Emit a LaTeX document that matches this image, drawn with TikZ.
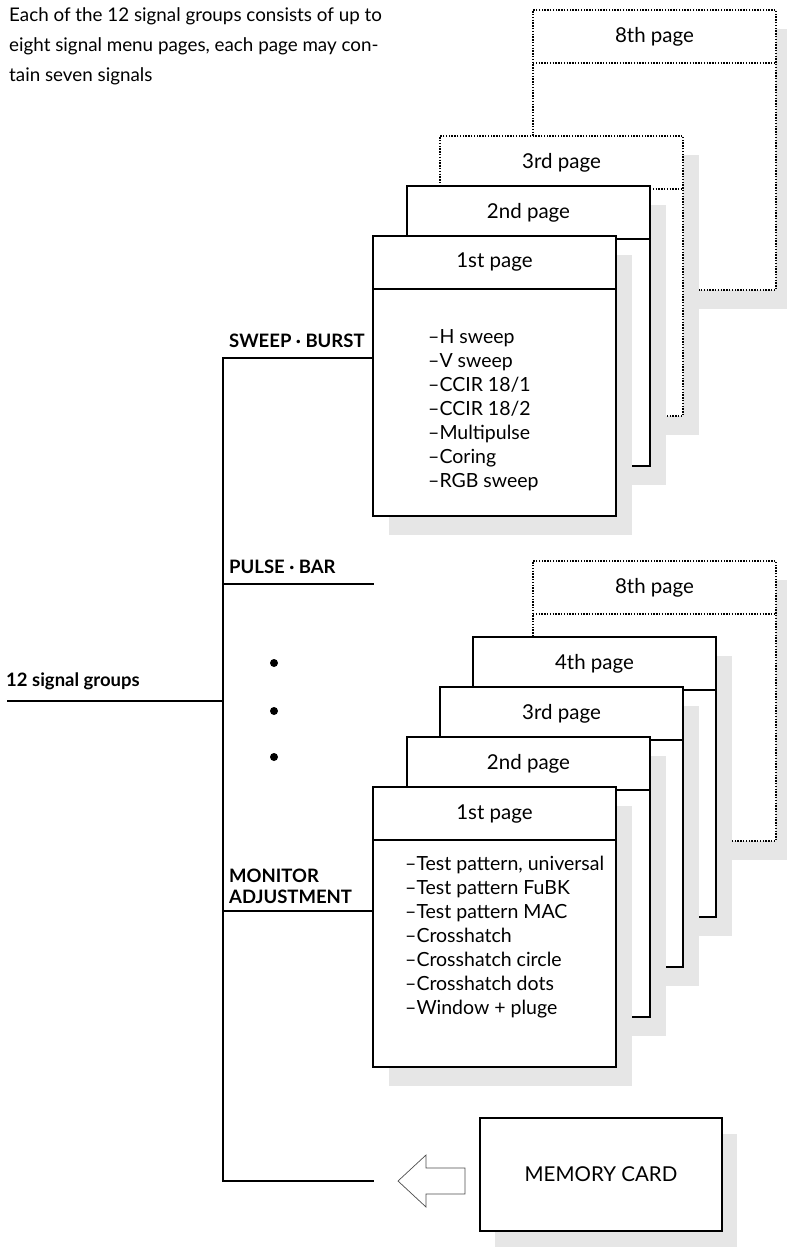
\documentclass[tikz,border=0pt]{standalone}
\usepackage{fontspec}
\setmainfont{Lato}
\usetikzlibrary{positioning}

\definecolor{shadowgray}{HTML}{E6E6E6}

\tikzset{
  cardshadow/.style={fill=shadowgray, draw=none},
  pagesolid/.style={draw, line width=2.4pt, fill=white},
  pagedotted/.style={draw, line width=1.8pt, dash pattern=on 1.4pt off 1.4pt, fill=white},
  groupline/.style={line width=2.3pt},
  grouplabel/.style={font=\bfseries\fontsize{18.5}{21}\selectfont, inner sep=0pt},
  itemtext/.style={font=\fontsize{19.5}{24}\selectfont, inner sep=0pt, anchor=base west},
}

% one menu page: name, left x, top y, style, header text
\newcommand{\menupage}[5]{%
  \fill[cardshadow] (#2+16,#3+19) rectangle ++(243,280);
  \node[#4, minimum width=243pt, minimum height=280pt, inner sep=0pt, outer sep=0pt,
        anchor=north west] (#1) at (#2,#3) {};
  \draw[#4] ([yshift=-53pt]#1.north west) -- ([yshift=-53pt]#1.north east);
  \node[font=\fontsize{20.5}{22}\selectfont] (#1-head) at ([yshift=-26.5pt]#1.north) {#5};
}

\begin{document}
\begin{tikzpicture}[x=1pt, y=-1pt]
  \useasboundingbox (0,0) rectangle (787,1248);

  % note at the top
  \node[itemtext, align=left, font=\fontsize{18.8}{30}\selectfont, anchor=north west]
    (note) at (9,7) {Each of the 12 signal groups consists of up to\\
    eight signal menu pages, each page may con-\\
    tain seven signals};

  % sweep / burst group
  \menupage{sa8}{533}{10}{pagedotted}{8th page}
  \menupage{sa3}{440}{136}{pagedotted}{3rd page}
  \menupage{sa2}{407}{186}{pagesolid}{2nd page}
  \menupage{sa1}{373}{236}{pagesolid}{1st page}
  \foreach \t [count=\i] in {H sweep, V sweep, CCIR 18/1, CCIR 18/2,
                             Multipulse, Coring, RGB sweep}
    \node[itemtext] (sa-\i) at (428,343+24*\i-24) {–\t};

  % monitor adjustment group
  \menupage{ma8}{533}{561}{pagedotted}{8th page}
  \menupage{ma4}{473}{637}{pagesolid}{4th page}
  \menupage{ma3}{440}{687}{pagesolid}{3rd page}
  \menupage{ma2}{407}{737}{pagesolid}{2nd page}
  \menupage{ma1}{373}{787}{pagesolid}{1st page}
  \foreach \t [count=\i] in {{Test pattern, universal}, Test pattern FuBK,
                             Test pattern MAC, Crosshatch, Crosshatch circle,
                             Crosshatch dots, Window + pluge}
    \node[itemtext] (ma-\i) at (405,870+24*\i-24) {–\t};

  % memory card
  \fill[cardshadow] (495,1134) rectangle (737,1247);
  \node[pagesolid, minimum width=242pt, minimum height=113pt,
        font=\fontsize{20.5}{22}\selectfont] (card) at (601,1174.5) {MEMORY CARD};
  \draw[line width=0.7pt, draw=black!70] (465,1168) -- (426,1168) -- (426,1155)
    -- (398,1181) -- (426,1207) -- (426,1194) -- (465,1194) -- cycle;

  % group tree
  \coordinate (bus-top) at (223,358);
  \coordinate (bus-pulse) at (223,584);
  \coordinate (bus-mon) at (223,911);
  \coordinate (bus-end) at (223,1181);
  \coordinate (pulse-end) at (374,584);
  \coordinate (card-end) at (374,1181);
  \coordinate (groups-start) at (7,701);
  \draw[groupline] (bus-top -| sa1.west) -- (bus-top) -- (bus-end) -- (card-end);
  \draw[groupline] (bus-pulse) -- (pulse-end);
  \draw[groupline] (bus-mon) -- (bus-mon -| ma1.west);
  \draw[line width=1.3pt] (groups-start) -- (groups-start -| bus-top);

  \node[grouplabel, anchor=base west] (sweep) at (229,347) {SWEEP · BURST};
  \node[grouplabel, anchor=base west] (pulse) at (229,573) {PULSE · BAR};
  \node[grouplabel, anchor=base west] (groups) at (6,686) {12 signal groups};
  \node[grouplabel, anchor=south west, align=left] (monitor) at (229,904)
    {MONITOR\\ADJUSTMENT};

  \foreach \y [count=\i] in {663,711,757}
    \fill (274,\y) circle (4) coordinate (dot-\i);
\end{tikzpicture}
\end{document}
